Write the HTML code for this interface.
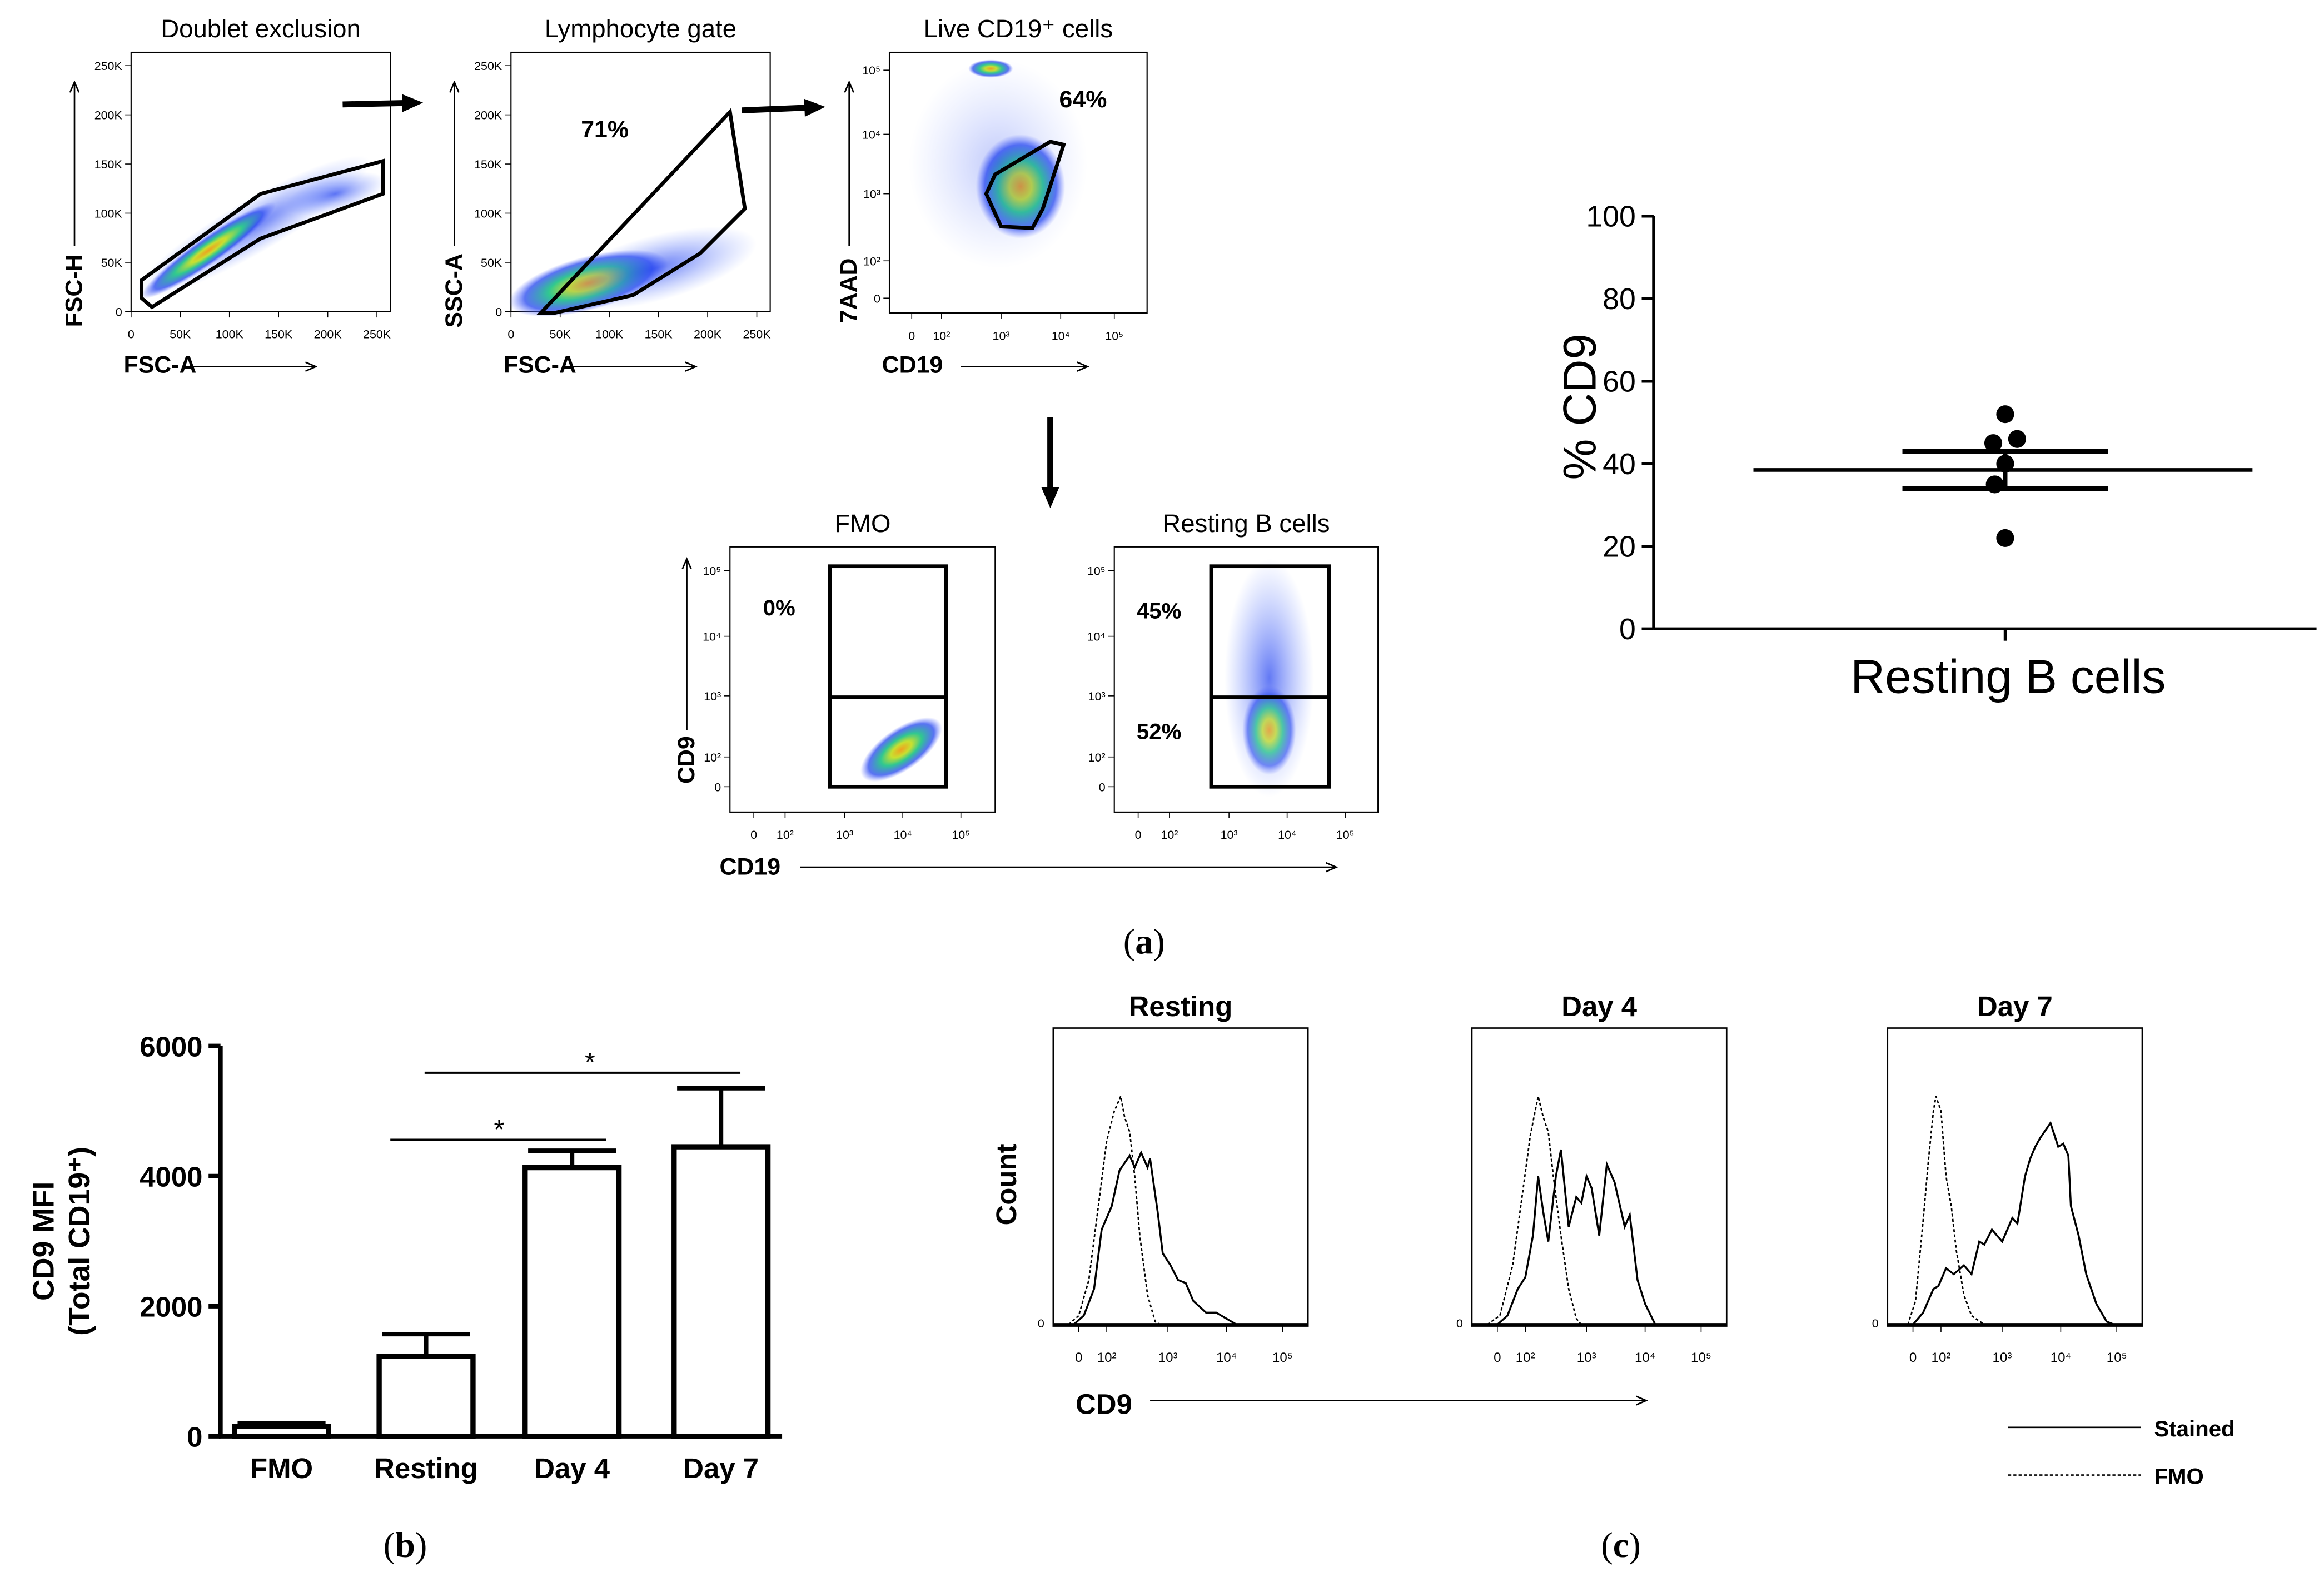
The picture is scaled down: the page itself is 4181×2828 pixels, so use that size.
<!DOCTYPE html>
<html><head><meta charset="utf-8"><style>
html,body{margin:0;padding:0;background:#fff}
svg{display:block}
text{font-family:"Liberation Sans",Arial,sans-serif;fill:#000}
</style></head><body>
<svg id="fig" width="4181" height="2828" viewBox="0 0 1560 1055" xmlns="http://www.w3.org/2000/svg">
<defs>
<radialGradient id="heat"><stop offset="0" stop-color="#f0a020"/><stop offset="0.25" stop-color="#c8e030"/><stop offset="0.5" stop-color="#30c890"/><stop offset="0.8" stop-color="#3050f0" stop-opacity="0.8"/><stop offset="1" stop-color="#6070ff" stop-opacity="0"/></radialGradient>
<radialGradient id="blue"><stop offset="0" stop-color="#2040f0" stop-opacity="0.7"/><stop offset="1" stop-color="#6080ff" stop-opacity="0"/></radialGradient>
<marker id="ah" markerWidth="8" markerHeight="8" refX="7" refY="4" orient="auto"><path d="M0,1 L7,4 L0,7" fill="none" stroke="#000" stroke-width="1"/></marker>
</defs>
<g id="flow"></g>
<g id="dotplot"></g>
<g id="bars"></g>
<g id="hists"></g>
<text x="768" y="640" font-size="24" text-anchor="middle" style="font-family:'Liberation Serif'">(<tspan font-weight="bold">a</tspan>)</text>
<text x="272" y="1045" font-size="24" text-anchor="middle" style="font-family:'Liberation Serif'">(<tspan font-weight="bold">b</tspan>)</text>
<text x="1088" y="1045" font-size="24" text-anchor="middle" style="font-family:'Liberation Serif'">(<tspan font-weight="bold">c</tspan>)</text>
</svg>
<script>
const NS='http://www.w3.org/2000/svg';
function mk(parent,tag,attrs,txt){const e=document.createElementNS(NS,tag);for(const k in attrs)e.setAttribute(k,attrs[k]);if(txt!==undefined)e.textContent=txt;parent.appendChild(e);return e;}

// ---------- dot plot data (% CD9 resting B cells) ----------
const dotValues=[52,45,46,40,35,22];
const dotOffsets=[0,-8,8,0,-7,0];
const dotMean=[38.5];
const dotSemHi=[43];
const dotSemLo=[34];
const dotTicks=[0,20,40,60,80,100];

// ---------- bar chart data ----------
const barCats=['FMO','Resting','Day 4','Day 7'];
const barValues=[150,1230,4130,4450];
const barErrors=[200,1570,4390,5350];
const barTicks=[0,2000,4000,6000];

// ---------- flow gate percentages ----------
const gateLabels=['71%','64%','0%','45%','52%'];

const flow=document.getElementById('flow');
function scatterPanel(x0,y0,w,h,title,xt,yt,name){
  const g=mk(flow,'g',{});
  
  
  mk(g,'rect',{x:x0,y:y0,width:w,height:h,fill:'none',stroke:'#000','stroke-width':0.8});
  if(title){const t=mk(g,'text',{x:x0+w/2,y:y0-10,'font-size':17,'text-anchor':'middle'},title);}
  xt.forEach(([p,l])=>{mk(g,'line',{x1:p,x2:p,y1:y0+h,y2:y0+h+4,stroke:'#000','stroke-width':0.6});mk(g,'text',{x:p,y:y0+h+18,'font-size':8,'text-anchor':'middle'},l);});
  yt.forEach(([p,l])=>{mk(g,'line',{x1:x0-4,x2:x0,y1:p,y2:p,stroke:'#000','stroke-width':0.6});mk(g,'text',{x:x0-6,y:p+3,'font-size':8,'text-anchor':'end'},l);});
  return g;
}
const lin=['0','50K','100K','150K','200K','250K'];
let g1=scatterPanel(88,35,174,174,'Doublet exclusion',lin.map((l,i)=>[88+i*33,l]),lin.map((l,i)=>[209-i*33,l]),'doublet-plot');
mk(g1,'ellipse',{cx:170,cy:152,rx:90,ry:18,fill:'url(#blue)',transform:'rotate(-30 170 152)'});
mk(g1,'ellipse',{cx:140,cy:168,rx:55,ry:9,fill:'url(#heat)',transform:'rotate(-35 140 168)'});
mk(g1,'ellipse',{cx:225,cy:130,rx:35,ry:12,fill:'url(#blue)',transform:'rotate(-15 225 130)'});
mk(g1,'polygon',{points:'95,188 175,130 257,108 257,130 175,160 102,206 95,200',fill:'none',stroke:'#000','stroke-width':2.5});
let g2=scatterPanel(343,35,174,174,'Lymphocyte gate',lin.map((l,i)=>[343+i*33,l]),lin.map((l,i)=>[209-i*33,l]),'lymphocyte-plot');
mk(g2,'ellipse',{cx:395,cy:190,rx:55,ry:18,fill:'url(#heat)',transform:'rotate(-15 395 190)'});
mk(g2,'ellipse',{cx:440,cy:180,rx:70,ry:22,fill:'url(#blue)',transform:'rotate(-15 440 180)'});
mk(g2,'polygon',{points:'363,210 490,75 500,140 470,170 425,198 372,210',fill:'none',stroke:'#000','stroke-width':2.5});
mk(g2,'text',{x:406,y:92,'font-size':16,'font-weight':'bold','text-anchor':'middle'},gateLabels[0]);
const logx=[['0',612],['10²',632],['10³',672],['10⁴',712],['10⁵',748]];
let g3=scatterPanel(597,35,173,175,'Live CD19⁺ cells',logx.map(a=>[a[1],a[0]]),[[200,'0'],[175,'10²'],[130,'10³'],[90,'10⁴'],[47,'10⁵']],'live-cd19-plot');
mk(g3,'ellipse',{cx:685,cy:125,rx:30,ry:35,fill:'url(#heat)'});
mk(g3,'ellipse',{cx:665,cy:46,rx:15,ry:6,fill:'url(#heat)'});
mk(g3,'ellipse',{cx:670,cy:110,rx:60,ry:70,fill:'url(#blue)',opacity:0.4});
mk(g3,'polygon',{points:'668,117 705,95 714,97 700,140 693,153 672,152 662,130',fill:'none',stroke:'#000','stroke-width':2.5});
mk(g3,'text',{x:727,y:72,'font-size':16,'font-weight':'bold','text-anchor':'middle'},gateLabels[1]);
[[88,246,'FSC-A',128,212],[343,246,'FSC-A',383,467],[597,246,'CD19',645,730]].forEach(([x,y,l,a1,a2])=>{
  const t=mk(flow,'text',{x:x-5,y:y+4,'font-size':16,'font-weight':'bold'},l);
  mk(flow,'line',{x1:a1,x2:a2,y1:y,y2:y,stroke:'#000','stroke-width':1,'marker-end':'url(#ah)'});
});
[[55,'FSC-H'],[310,'SSC-A'],[575,'7AAD']].forEach(([x,l])=>{
  const t=mk(flow,'text',{x:x,y:195,'font-size':16,'font-weight':'bold',transform:`rotate(-90 ${x} 195)`,'text-anchor':'middle'},l);
  
  mk(flow,'line',{x1:x-5,x2:x-5,y1:165,y2:55,stroke:'#000','stroke-width':1,'marker-end':'url(#ah)'});
});
[[230,70,276,69],[498,74,546,72],[705,280,705,333]].forEach(([a,b,c,d])=>{
  const l=mk(flow,'line',{x1:a,y1:b,x2:c,y2:d,stroke:'#000','stroke-width':4});
  
  const ang=Math.atan2(d-b,c-a);
  const p=[[c+8*Math.cos(ang),d+8*Math.sin(ang)],[c-6*Math.cos(ang)+6*Math.sin(ang),d-6*Math.sin(ang)-6*Math.cos(ang)],[c-6*Math.cos(ang)-6*Math.sin(ang),d-6*Math.sin(ang)+6*Math.cos(ang)]];
  mk(flow,'polygon',{points:p.map(q=>q.join(',')).join(' '),fill:'#000'});
});
const logx2=o=>[[506+o,'0'],[527+o,'10²'],[567+o,'10³'],[606+o,'10⁴'],[645+o,'10⁵']];
const logy2=[[528,'0'],[508,'10²'],[467,'10³'],[427,'10⁴'],[383,'10⁵']];
let g4=scatterPanel(490,367,178,178,'FMO',logx2(0),logy2,'fmo-plot');
mk(g4,'ellipse',{cx:605,cy:503,rx:32,ry:14,fill:'url(#heat)',transform:'rotate(-35 605 503)'});
mk(g4,'rect',{x:557,y:380,width:78,height:148,fill:'none',stroke:'#000','stroke-width':2.5});
mk(g4,'line',{x1:557,x2:635,y1:468,y2:468,stroke:'#000','stroke-width':2.5});
mk(g4,'text',{x:523,y:413,'font-size':15,'font-weight':'bold','text-anchor':'middle'},gateLabels[2]);
let g5=scatterPanel(748,367,177,178,'Resting B cells',logx2(258),logy2,'resting-plot');
mk(g5,'ellipse',{cx:852,cy:455,rx:30,ry:80,fill:'url(#blue)'});
mk(g5,'ellipse',{cx:852,cy:490,rx:18,ry:30,fill:'url(#heat)',opacity:0.8});
mk(g5,'rect',{x:813,y:380,width:79,height:148,fill:'none',stroke:'#000','stroke-width':2.5});
mk(g5,'line',{x1:813,x2:892,y1:468,y2:468,stroke:'#000','stroke-width':2.5});
mk(g5,'text',{x:778,y:415,'font-size':15,'font-weight':'bold','text-anchor':'middle'},gateLabels[3]);
mk(g5,'text',{x:778,y:496,'font-size':15,'font-weight':'bold','text-anchor':'middle'},gateLabels[4]);
mk(flow,'text',{x:483,y:587,'font-size':16,'font-weight':'bold'},'CD19');
mk(flow,'line',{x1:537,x2:897,y1:582,y2:582,stroke:'#000','stroke-width':1,'marker-end':'url(#ah)'});
mk(flow,'text',{x:466,y:510,'font-size':16,'font-weight':'bold',transform:'rotate(-90 466 510)','text-anchor':'middle'},'CD9');
mk(flow,'line',{x1:461,x2:461,y1:490,y2:375,stroke:'#000','stroke-width':1,'marker-end':'url(#ah)'});

// ---------- dot plot ----------
const dp=document.getElementById('dotplot');
const dY=v=>422-v*(422-145)/100;
const dX0=1346;
mk(dp,'line',{x1:1110,x2:1110,y1:145,y2:422,stroke:'#000','stroke-width':2});
mk(dp,'line',{x1:1110,x2:1555,y1:422,y2:422,stroke:'#000','stroke-width':2});
mk(dp,'line',{x1:dX0,x2:dX0,y1:422,y2:430,stroke:'#000','stroke-width':2});
dotTicks.forEach(v=>{mk(dp,'line',{x1:1102,x2:1110,y1:dY(v),y2:dY(v),stroke:'#000','stroke-width':2});
  const t=mk(dp,'text',{x:1098,y:dY(v)+7,'font-size':20,'text-anchor':'end'},String(v));});
let yt=mk(dp,'text',{x:1071,y:273,'font-size':31,'text-anchor':'middle',transform:'rotate(-90 1071 273)'},'% CD9');

let xl=mk(dp,'text',{x:1348,y:465,'font-size':32,'text-anchor':'middle'},'Resting B cells');

dotValues.forEach((v,i)=>{const c=mk(dp,'circle',{cx:dX0+dotOffsets[i],cy:dY(v),r:6,fill:'#000'});
  });
let ml=mk(dp,'line',{x1:1177,x2:1512,y1:dY(dotMean[0]),y2:dY(dotMean[0]),stroke:'#000','stroke-width':2.5});

[dotSemHi[0],dotSemLo[0]].forEach(v=>{const l=mk(dp,'line',{x1:1277,x2:1415,y1:dY(v),y2:dY(v),stroke:'#000','stroke-width':3.5});
  });
mk(dp,'line',{x1:dX0,x2:dX0,y1:dY(dotSemHi[0]),y2:dY(dotSemLo[0]),stroke:'#000','stroke-width':3});

// ---------- bar chart ----------
const bc=document.getElementById('bars');
const bY=v=>964-v*(964-702)/6000;
const bX=[189,286,384,484];
const bW=63;
mk(bc,'line',{x1:148,x2:148,y1:702,y2:965,stroke:'#000','stroke-width':3});
mk(bc,'line',{x1:147,x2:525,y1:964,y2:964,stroke:'#000','stroke-width':3});
barTicks.forEach(v=>{mk(bc,'line',{x1:140,x2:148,y1:bY(v),y2:bY(v),stroke:'#000','stroke-width':3});
  const t=mk(bc,'text',{x:136,y:bY(v)+7,'font-size':19,'font-weight':'bold','text-anchor':'end'},String(v));});
barValues.forEach((v,i)=>{
  mk(bc,'line',{x1:bX[i],x2:bX[i],y1:bY(v),y2:bY(barErrors[i]),stroke:'#000','stroke-width':3});
  mk(bc,'line',{x1:bX[i]-bW/2+2,x2:bX[i]+bW/2-2,y1:bY(barErrors[i]),y2:bY(barErrors[i]),stroke:'#000','stroke-width':3});
  const r=mk(bc,'rect',{x:bX[i]-bW/2,y:bY(v),width:bW,height:964-bY(v),fill:'#fff',stroke:'#000','stroke-width':3.5});
  
  const t=mk(bc,'text',{x:bX[i],y:992,'font-size':19,'font-weight':'bold','text-anchor':'middle'},barCats[i]);
  
});
[[285,497,720,396],[262,407,765,335]].forEach(([a,b,y,s])=>{
  const l=mk(bc,'line',{x1:a,x2:b,y1:y,y2:y,stroke:'#000','stroke-width':1.5});
  mk(bc,'text',{x:s,y:y-1,'font-size':18,'text-anchor':'middle'},'*');
});
let bt=mk(bc,'text',{x:36,y:833,'font-size':20,'font-weight':'bold','text-anchor':'middle',transform:'rotate(-90 36 833)'},'CD9  MFI');

mk(bc,'text',{x:60,y:833,'font-size':20,'font-weight':'bold','text-anchor':'middle',transform:'rotate(-90 60 833)'},'(Total CD19⁺)');

// ---------- histograms ----------
const hs=document.getElementById('hists');
const fmoA=[[0.06,0],[0.1,0.03],[0.14,0.15],[0.18,0.42],[0.21,0.62],[0.24,0.72],[0.265,0.77],[0.28,0.7],[0.3,0.65],[0.32,0.5],[0.34,0.3],[0.37,0.1],[0.4,0.01],[0.42,0]];
const stA=[[0.08,0],[0.12,0.03],[0.16,0.12],[0.19,0.32],[0.23,0.4],[0.26,0.52],[0.3,0.57],[0.32,0.53],[0.345,0.58],[0.37,0.53],[0.38,0.56],[0.41,0.38],[0.43,0.24],[0.46,0.2],[0.49,0.15],[0.52,0.14],[0.55,0.08],[0.6,0.04],[0.64,0.04],[0.72,0]];
const fmoB=[[0.06,0],[0.11,0.03],[0.16,0.2],[0.2,0.45],[0.23,0.64],[0.26,0.77],[0.28,0.7],[0.3,0.65],[0.32,0.5],[0.35,0.3],[0.38,0.12],[0.41,0.02],[0.43,0]];
const stB=[[0.1,0],[0.14,0.03],[0.18,0.12],[0.21,0.16],[0.24,0.3],[0.26,0.5],[0.28,0.38],[0.3,0.28],[0.33,0.5],[0.35,0.59],[0.38,0.33],[0.41,0.43],[0.43,0.41],[0.45,0.5],[0.47,0.46],[0.5,0.3],[0.53,0.54],[0.56,0.48],[0.6,0.33],[0.62,0.37],[0.65,0.15],[0.68,0.07],[0.72,0]];
const fmoC=[[0.08,0],[0.11,0.08],[0.14,0.35],[0.16,0.55],[0.18,0.72],[0.19,0.77],[0.21,0.72],[0.23,0.5],[0.25,0.4],[0.27,0.25],[0.3,0.1],[0.33,0.03],[0.38,0]];
const stC=[[0.1,0],[0.14,0.04],[0.18,0.12],[0.2,0.13],[0.23,0.19],[0.26,0.17],[0.3,0.2],[0.33,0.17],[0.36,0.28],[0.38,0.27],[0.41,0.32],[0.45,0.28],[0.49,0.36],[0.51,0.34],[0.54,0.5],[0.56,0.56],[0.58,0.6],[0.6,0.63],[0.64,0.68],[0.67,0.6],[0.69,0.61],[0.71,0.57],[0.72,0.4],[0.75,0.3],[0.78,0.17],[0.82,0.07],[0.86,0.01],[0.89,0]];
const H=[{x:707,t:'Resting',f:fmoA,s:stA,n:'resting'},{x:988,t:'Day 4',f:fmoB,s:stB,n:'day4'},{x:1267,t:'Day 7',f:fmoC,s:stC,n:'day7'}];
H.forEach(p=>{
  const g=mk(hs,'g',{});
  const w=171,y0=690,h=200,base=889;
  mk(g,'rect',{x:p.x,y:y0,width:w,height:h,fill:'none',stroke:'#000','stroke-width':1});
  mk(g,'line',{x1:p.x,x2:p.x+w,y1:base,y2:base,stroke:'#000','stroke-width':2});
  mk(g,'text',{x:p.x+w/2,y:y0-8,'font-size':19,'font-weight':'bold','text-anchor':'middle'},p.t);
  mk(g,'text',{x:p.x-6,y:base+2,'font-size':8,'text-anchor':'end'},'0');
  const pts=a=>a.map(([u,v])=>(p.x+u*w).toFixed(1)+','+(base-v*(base-y0)).toFixed(1)).join(' ');
  mk(g,'polyline',{points:pts(p.f),fill:'none',stroke:'#000','stroke-width':1,'stroke-dasharray':'2,1.5'});
  mk(g,'polyline',{points:pts(p.s),fill:'none',stroke:'#000','stroke-width':1.3});
  [['0',0.1],['10²',0.21],['10³',0.45],['10⁴',0.68],['10⁵',0.9]].forEach(([l,u])=>{
    mk(g,'line',{x1:p.x+u*w,x2:p.x+u*w,y1:base,y2:base+5,stroke:'#000','stroke-width':0.6});
    mk(g,'text',{x:p.x+u*w,y:base+25,'font-size':9,'text-anchor':'middle'},l);});
});
mk(hs,'text',{x:722,y:949,'font-size':19,'font-weight':'bold'},'CD9');
mk(hs,'line',{x1:772,x2:1105,y1:940,y2:940,stroke:'#000','stroke-width':1,'marker-end':'url(#ah)'});
mk(hs,'text',{x:682,y:795,'font-size':19,'font-weight':'bold','text-anchor':'middle',transform:'rotate(-90 682 795)'},'Count');
let lg=mk(hs,'g',{});
mk(lg,'line',{x1:1348,x2:1437,y1:958,y2:958,stroke:'#000','stroke-width':1});
mk(lg,'text',{x:1446,y:964,'font-size':15,'font-weight':'bold'},'Stained');
mk(lg,'line',{x1:1348,x2:1437,y1:990,y2:990,stroke:'#000','stroke-width':1,'stroke-dasharray':'2,1.5'});
mk(lg,'text',{x:1446,y:996,'font-size':15,'font-weight':'bold'},'FMO');
</script>
</body></html>
